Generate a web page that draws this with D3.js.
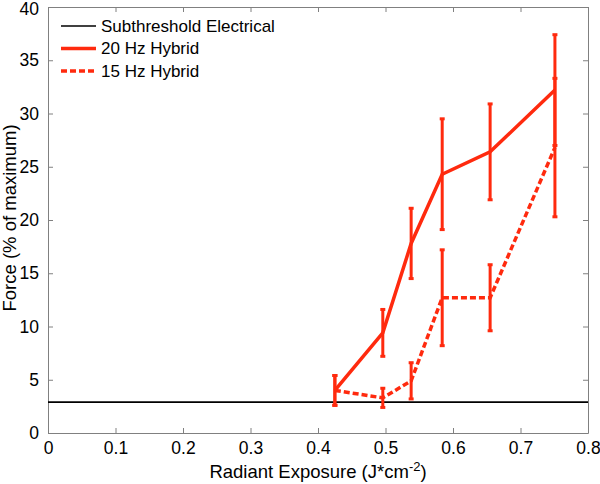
<!DOCTYPE html>
<html>
<head>
<meta charset="utf-8">
<script src="https://cdn.jsdelivr.net/npm/d3@7"></script>
<style>
  body { margin: 0; background: #fff; }
  svg text { font-family: "Liberation Sans", Arial, sans-serif; fill: #000; }
</style>
</head>
<body>
<div id="chart"></div>
<script>
// data
const exposure = [0.425, 0.496, 0.538, 0.584, 0.655, 0.751];
const hz20Mean = [4.0, 9.4, 17.8, 24.3, 26.4, 32.2];
const hz20Err = [1.4, 2.2, 3.3, 5.2, 4.5, 5.2];
const hz15Mean = [4.0, 3.3, 4.9, 12.7, 12.7, 26.8];
const hz15Err = [1.4, 0.9, 1.7, 4.5, 3.1, 6.5];
const subthreshold = 2.9;
const xTicks = [0, 0.1, 0.2, 0.3, 0.4, 0.5, 0.6, 0.7, 0.8];
const yTicks = [0, 5, 10, 15, 20, 25, 30, 35, 40];

const width = 600, height = 484;
const margin = { top: 7, right: 12, bottom: 51, left: 48 };
const red = "#ff2a0e";

const svg = d3.select("#chart").append("svg")
    .attr("width", width)
    .attr("height", height);

const x = d3.scaleLinear().domain([0, 0.8]).range([margin.left, width - margin.right]);
const y = d3.scaleLinear().domain([0, 40]).range([height - margin.bottom, margin.top]);

// axes box with inward ticks (matlab style)
const tickLen = 5;
const axisColor = "#808080";
const g = svg.append("g");

g.append("g")
    .attr("transform", `translate(0,${y(0)})`)
    .call(d3.axisBottom(x).tickValues(xTicks).tickSizeInner(-tickLen).tickSizeOuter(0).tickPadding(9)
        .tickFormat(d => d === 0 ? "0" : d3.format(".1f")(d)))
    .call(a => a.select(".domain").attr("stroke", axisColor))
    .call(a => a.selectAll(".tick line").attr("stroke", axisColor))
    .call(a => a.selectAll("text").style("font-size", "17.5px"));

g.append("g")
    .attr("transform", `translate(0,${y(40)})`)
    .call(d3.axisTop(x).tickValues(xTicks).tickSizeInner(-tickLen).tickSizeOuter(0).tickFormat(""))
    .call(a => a.select(".domain").attr("stroke", axisColor))
    .call(a => a.selectAll(".tick line").attr("stroke", axisColor));

g.append("g")
    .attr("transform", `translate(${x(0)},0)`)
    .call(d3.axisLeft(y).tickValues(yTicks).tickSizeInner(-tickLen).tickSizeOuter(0).tickPadding(9))
    .call(a => a.select(".domain").attr("stroke", axisColor))
    .call(a => a.selectAll(".tick line").attr("stroke", axisColor))
    .call(a => a.selectAll("text").style("font-size", "17.5px"));

g.append("g")
    .attr("transform", `translate(${x(0.8)},0)`)
    .call(d3.axisRight(y).tickValues(yTicks).tickSizeInner(-tickLen).tickSizeOuter(0).tickFormat(""))
    .call(a => a.select(".domain").attr("stroke", axisColor))
    .call(a => a.selectAll(".tick line").attr("stroke", axisColor));

// keep the top "40" label inside the page
g.selectAll("text").filter(d => d === 40).attr("dy", "0.42em");

// subthreshold level
svg.append("line")
    .attr("x1", x(0)).attr("x2", x(0.8))
    .attr("y1", y(subthreshold)).attr("y2", y(subthreshold))
    .attr("stroke", "#000").attr("stroke-width", 1.6);

function series(means, errs, dash) {
    const pts = exposure.map((e, i) => ({ x: e, m: means[i], e: errs[i] }));
    const grp = svg.append("g");
    const capW = 2.5;
    pts.forEach(p => {
        grp.append("line")
            .attr("x1", x(p.x)).attr("x2", x(p.x))
            .attr("y1", y(p.m - p.e)).attr("y2", y(p.m + p.e))
            .attr("stroke", red).attr("stroke-width", 3);
        [p.m - p.e, p.m + p.e].forEach(v => {
            grp.append("line")
                .attr("x1", x(p.x) - capW).attr("x2", x(p.x) + capW)
                .attr("y1", y(v)).attr("y2", y(v))
                .attr("stroke", red).attr("stroke-width", 3);
        });
    });
    grp.append("path")
        .datum(pts)
        .attr("fill", "none")
        .attr("stroke", red)
        .attr("stroke-width", 3.5)
        .attr("stroke-dasharray", dash || null)
        .attr("d", d3.line().x(d => x(d.x)).y(d => y(d.m)));
}
series(hz20Mean, hz20Err, null);
series(hz15Mean, hz15Err, "6,3");

// legend
const legend = [
    { label: "Subthreshold Electrical", color: "#000", w: 1.6, dash: null },
    { label: "20 Hz Hybrid", color: red, w: 3.5, dash: null },
    { label: "15 Hz Hybrid", color: red, w: 3.5, dash: "6,3" }
];
legend.forEach((d, i) => {
    const ly = 26 + i * 22.5;
    svg.append("line")
        .attr("x1", 61).attr("x2", 96)
        .attr("y1", ly).attr("y2", ly)
        .attr("stroke", d.color).attr("stroke-width", d.w)
        .attr("stroke-dasharray", d.dash);
    svg.append("text")
        .attr("x", 101).attr("y", ly)
        .attr("dy", "0.35em")
        .style("font-size", "17px")
        .text(d.label);
});

// axis titles
const xl = svg.append("text")
    .attr("x", 318).attr("y", 478)
    .attr("text-anchor", "middle")
    .style("font-size", "18.5px");
xl.append("tspan").text("Radiant Exposure (J*cm");
xl.append("tspan").attr("dy", -7).style("font-size", "13px").text("-2");
xl.append("tspan").attr("dy", 7).text(")");

svg.append("text")
    .attr("transform", `translate(16,${y(20) - 2}) rotate(-90)`)
    .attr("text-anchor", "middle")
    .style("font-size", "18.5px")
    .text("Force (% of maximum)");
</script>
</body>
</html>
